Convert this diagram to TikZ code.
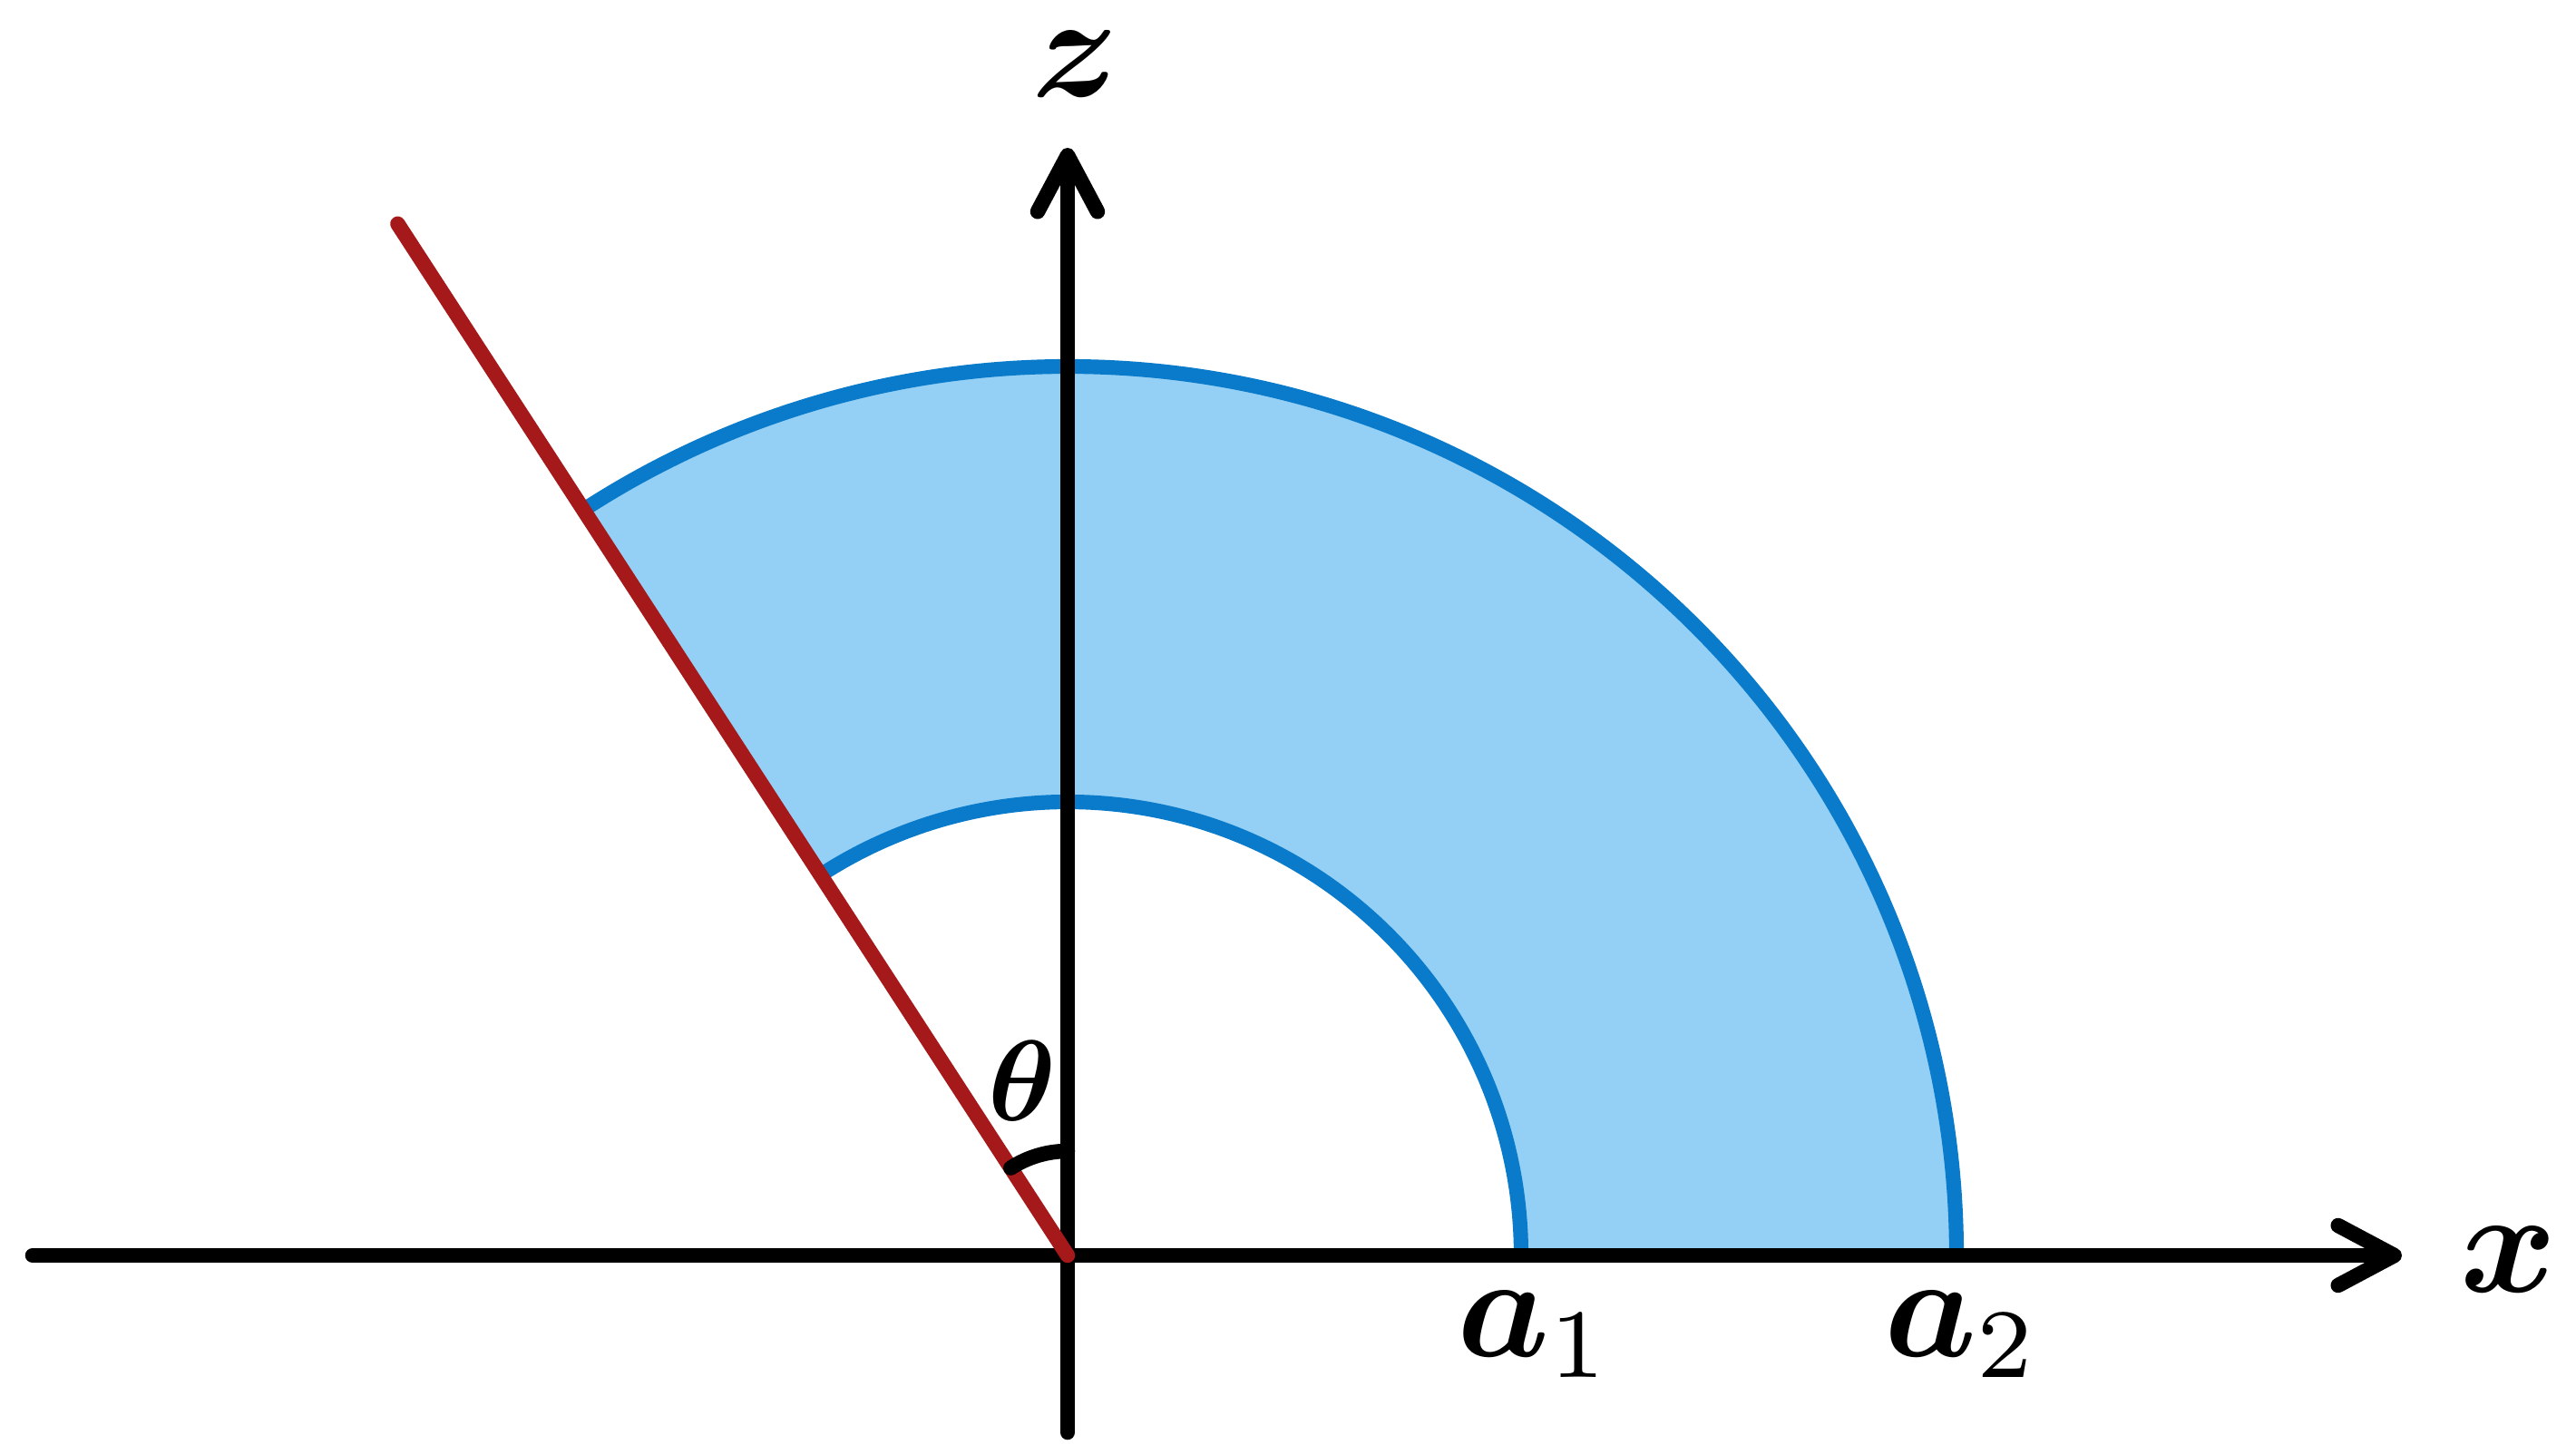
\documentclass[tikz,border=0pt]{standalone}
\usepackage{graphicx}
\usepackage{amsmath,bm}
\usetikzlibrary{arrows.meta,positioning}
\definecolor{fillblue}{HTML}{94D0F5}
\definecolor{lineblue}{HTML}{0A7BCB}
\definecolor{rayred}{HTML}{A5191A}
\newcommand{\biglbl}[1]{\scalebox{4.6}{$\boldsymbol{#1}$}}

\begin{document}
\begin{tikzpicture}[line cap=round]
  \tikzstyle{axis}=[line width=4.7pt,black,-{Straight Barb[round,length=0.62cm,width=0.66cm]}]
  \tikzstyle{shell}=[line width=4.6pt,lineblue]
  \tikzstyle{lbl}=[inner sep=0pt]
  \useasboundingbox (-11.77,-2.08) rectangle (16.63,13.84);

  \coordinate (O)    at (0,0);
  \coordinate (xneg) at (-11.41,0);
  \coordinate (xpos) at (14.71,0);
  \coordinate (zneg) at (0,-1.95);
  \coordinate (zpos) at (0,12.21);
  \coordinate (a1)   at (0:5);
  \coordinate (a2)   at (0:9.8);
  \coordinate (ray)  at (123:13.56);

  % shell between the two radii
  \fill[fillblue] (a1) arc (0:123:5) -- (123:9.8) arc (123:0:9.8) -- cycle;
  \draw[shell,line cap=butt] (a1) arc (0:123:5);
  \draw[shell,line cap=butt] (a2) arc (0:123:9.8);

  % axes
  \draw[axis] (xneg) -- (xpos);
  \draw[axis] (zneg) -- (zpos);
  \draw[line width=4.7pt,rayred] (O) -- (ray);
  \draw[line width=4.7pt] (90:1.15) arc (90:123:1.15);

  \node[lbl] (zlbl)  at (0.09,13.13)  {\biglbl{z}};
  \node[lbl] (xlbl)  at (15.89,-0.05) {\biglbl{x}};
  \node[lbl] (a1lbl) at (5.15,-0.87)  {\biglbl{a}\scalebox{4.4}{$_1$}};
  \node[lbl] (a2lbl) at (9.86,-0.87)  {\biglbl{a}\scalebox{4.4}{$_2$}};
  \node[lbl] (thlbl) at (-0.50,1.92)  {\scalebox{3.6}{$\boldsymbol{\theta}$}};
\end{tikzpicture}
\end{document}
